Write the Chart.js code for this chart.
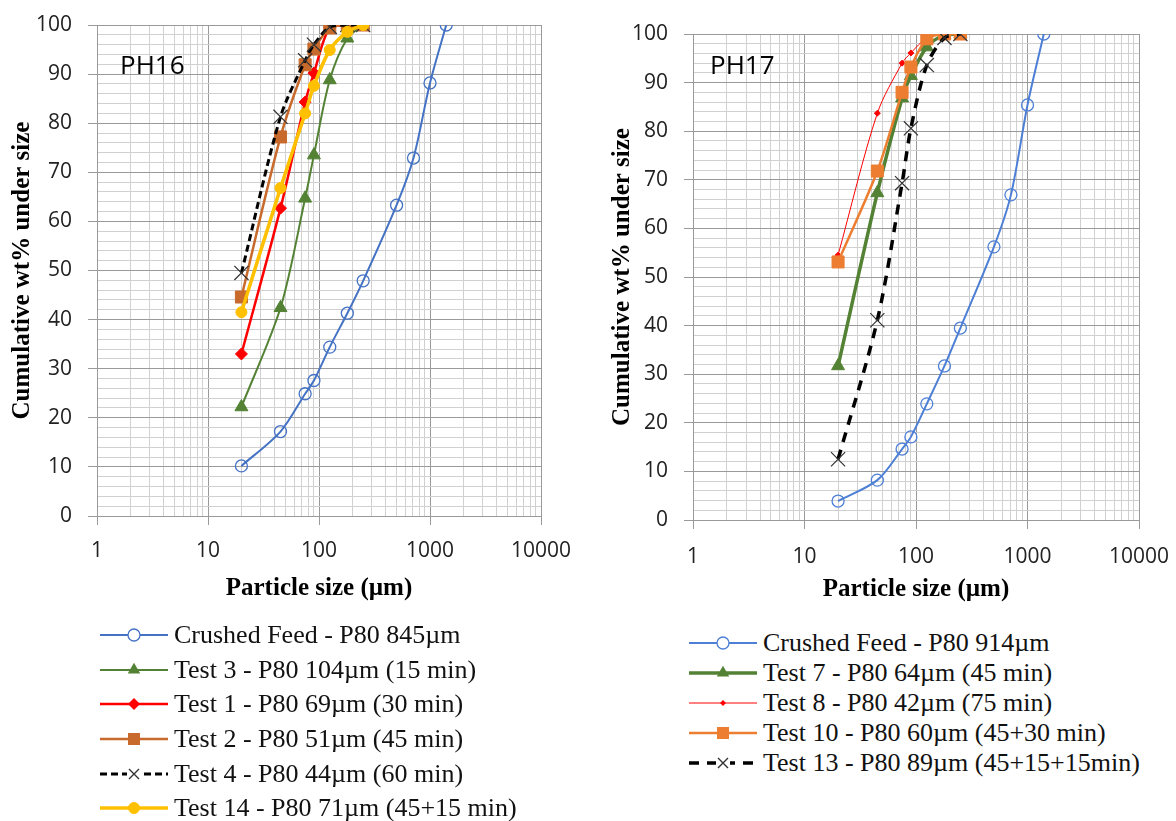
<!DOCTYPE html>
<html>
<head>
<meta charset="utf-8">
<script src="https://cdn.jsdelivr.net/npm/chart.js@4.4.1/dist/chart.umd.min.js"></script>
<style>
  body { margin: 0; background: #fff; width: 1176px; height: 821px; overflow: hidden; position: relative; }
  canvas { position: absolute; }
  .legend { position: absolute; font-family: "Liberation Serif", "Times New Roman", serif; font-size: 26px; color: #111; }
  .legend .row { display: flex; align-items: center; white-space: nowrap; }
  .legend svg { margin-right: 6px; flex: none; }
</style>
</head>
<body>
<canvas id="ph16" width="600" height="620" style="left:0;top:0"></canvas>
<canvas id="ph17" width="576" height="620" style="left:600px;top:0"></canvas>
<div id="leg16" class="legend" style="left:100px;top:618px"></div>
<div id="leg17" class="legend" style="left:689px;top:628px"></div>
<script>
// sieve sizes (µm)
const sizes = [20, 45, 75, 90, 125, 180, 250, 500, 710, 1000, 1400];

// PH16 - cumulative wt% passing
const ph16Feed   = [10.2, 17.2, 24.9, 27.6, 34.4, 41.3, 47.9, 63.3, 72.9, 88.2, 100];
const ph16Test3  = [22.2, 42.4, 64.7, 73.5, 88.8, 97.3, 100];
const ph16Test1  = [33.0, 62.7, 84.3, 90.2, 99.5, 100, 100];
const ph16Test2  = [44.6, 77.2, 91.9, 95.1, 99.4, 100, 100];
const ph16Test4  = [49.5, 81.3, 92.8, 96.0, 99.6, 100, 100];
const ph16Test14 = [41.5, 66.8, 82.0, 87.6, 94.9, 98.6, 100];

// PH17 - cumulative wt% passing
const ph17Feed   = [3.9, 8.2, 14.6, 17.1, 23.9, 31.7, 39.5, 56.2, 66.9, 85.4, 100];
const ph17Test7  = [31.7, 67.3, 86.8, 91.4, 97.3, 99.8, 100];
const ph17Test8  = [54.5, 83.7, 94.0, 96.1, 99.2, 100, 100];
const ph17Test10 = [53.1, 71.8, 88.0, 93.2, 99.0, 100, 100];
const ph17Test13 = [12.5, 41.1, 69.3, 80.6, 93.6, 99.2, 100];

const ph16Labels = [
  'Crushed Feed - P80 845µm',
  'Test 3 - P80 104µm (15 min)',
  'Test 1 - P80 69µm (30 min)',
  'Test 2 - P80 51µm (45 min)',
  'Test 4 -  P80 44µm (60 min)',
  'Test 14 - P80 71µm (45+15 min)'
];
const ph17Labels = [
  'Crushed Feed - P80 914µm',
  'Test 7 - P80 64µm (45 min)',
  'Test 8 - P80 42µm (75 min)',
  'Test 10 - P80 60µm (45+30 min)',
  'Test 13 - P80 89µm (45+15+15min)'
];

const xTicks = [];
for (let e = 0; e < 4; e++) for (let m = 1; m < 10; m++) xTicks.push(m * Math.pow(10, e));
xTicks.push(10000);
const xLabels = [1, 10, 100, 1000, 10000];

const pts = (ys) => ys.map((y, i) => ({ x: sizes[i], y: y }));

function line(label, ys, color, width, style, radius, extra) {
  return Object.assign({
    label: label,
    data: pts(ys),
    borderColor: color,
    backgroundColor: color,
    borderWidth: width,
    pointStyle: style,
    pointRadius: radius,
    pointBackgroundColor: color,
    pointBorderColor: color,
    pointBorderWidth: 1,
    tension: 0.3,
    fill: false
  }, extra || {});
}

const ph16Sets = [
  line(ph16Labels[0], ph16Feed, '#4472C4', 2, 'circle', 6, { pointBackgroundColor: 'rgba(0,0,0,0)', pointBorderWidth: 1.3 }),
  line(ph16Labels[1], ph16Test3, '#548235', 2, 'triangle', 7.5),
  line(ph16Labels[2], ph16Test1, '#FF0000', 2.5, 'rectRot', 6),
  line(ph16Labels[3], ph16Test2, '#C86A2C', 2.5, 'rect', 8.5),
  line(ph16Labels[4], ph16Test4, '#000000', 3, 'crossRot', 10, { borderDash: [7, 4], pointBorderWidth: 1.2, pointBorderColor: '#333' }),
  line(ph16Labels[5], ph16Test14, '#FFC000', 3.5, 'circle', 5.5)
];
const ph17Sets = [
  line(ph17Labels[0], ph17Feed, '#4D7FD6', 2, 'circle', 6, { pointBackgroundColor: 'rgba(0,0,0,0)', pointBorderWidth: 1.3 }),
  line(ph17Labels[1], ph17Test7, '#548235', 3.5, 'triangle', 7.5),
  line(ph17Labels[2], ph17Test8, '#FF0000', 1, 'rectRot', 3),
  line(ph17Labels[3], ph17Test10, '#ED7D31', 2.5, 'rect', 8.5),
  line(ph17Labels[4], ph17Test13, '#000000', 3.5, 'crossRot', 10, { borderDash: [10, 8], pointBorderWidth: 1.2, pointBorderColor: '#333' })
];
// later series on top, like the spreadsheet
ph16Sets.forEach((d, i) => d.order = ph16Sets.length - i);
ph17Sets.forEach((d, i) => d.order = ph17Sets.length - i);

const panelLabel = {
  id: 'panelLabel',
  beforeDatasetsDraw(chart, args, opts) {
    const c = chart.ctx;
    c.save();
    c.font = '26px "Open Sans", sans-serif';
    c.fillStyle = '#000';
    c.textBaseline = 'middle';
    c.fillText(opts.text, chart.chartArea.left + opts.dx, chart.chartArea.top + opts.dy);
    c.restore();
  }
};

const majorGrid = '#9A9A9A';
const minorGrid = '#D0D0D0';

function makeChart(id, sets, cfg) {
  return new Chart(document.getElementById(id), {
    type: 'line',
    data: { datasets: sets },
    plugins: [panelLabel],
    options: {
      responsive: false,
      animation: false,
      layout: { padding: { top: cfg.top, right: cfg.right, bottom: cfg.bottom, left: 0 } },
      plugins: {
        legend: { display: false },
        tooltip: { enabled: false },
        panelLabel: { text: cfg.name, dx: cfg.dx, dy: cfg.dy }
      },
      scales: {
        x: {
          type: 'logarithmic',
          min: 1,
          max: 10000,
          afterBuildTicks: (scale) => { scale.ticks = xTicks.map(v => ({ value: v })); },
          afterFit: (scale) => { scale.height = 90; },
          ticks: {
            autoSkip: false,
            maxRotation: 0,
            padding: 3,
            color: '#222',
            font: { family: '"Open Sans", sans-serif', size: 21, lineHeight: cfg.xTickLH },
            callback: (v) => xLabels.includes(v) ? String(v) : ''
          },
          grid: {
            color: (ctx) => xLabels.includes(ctx.tick && ctx.tick.value) ? majorGrid : minorGrid,
            tickColor: (ctx) => xLabels.includes(ctx.tick && ctx.tick.value) ? majorGrid : 'rgba(0,0,0,0)',
            tickLength: 9
          },
          border: { color: majorGrid },
          title: {
            display: true,
            text: 'Particle size (µm)',
            color: '#000',
            font: { family: '"Liberation Serif", serif', size: 25, weight: 'bold' },
            padding: { top: 0, bottom: cfg.xTitlePad }
          }
        },
        y: {
          min: 0,
          max: 100,
          afterFit: (scale) => { scale.width = cfg.left; },
          ticks: {
            stepSize: 2,
            autoSkip: false,
            padding: 16,
            color: '#222',
            font: { family: '"Open Sans", sans-serif', size: 21, lineHeight: 0.6 },
            callback: (v) => v % 10 === 0 ? String(v) : ''
          },
          grid: {
            color: (ctx) => ctx.tick && ctx.tick.value % 10 === 0 ? majorGrid : minorGrid,
            tickColor: (ctx) => ctx.tick && ctx.tick.value % 10 === 0 ? majorGrid : 'rgba(0,0,0,0)',
            tickLength: 9
          },
          border: { color: majorGrid },
          title: {
            display: true,
            text: 'Cumulative wt% under size',
            color: '#000',
            font: { family: '"Liberation Serif", serif', size: 25, weight: 'bold' },
            padding: { top: 8, bottom: 0 }
          }
        }
      }
    }
  });
}

makeChart('ph16', ph16Sets, { top: 25, right: 59, bottom: 14, left: 97, name: 'PH16', dx: 23, dy: 42, xTickLH: 2.15, xTitlePad: 2 });
makeChart('ph17', ph17Sets, { top: 34, right: 37, bottom: 10, left: 93, name: 'PH17', dx: 17, dy: 33, xTickLH: 2.34, xTitlePad: 5 });

// legend samples: line with the series marker in the middle
function sample(ds) {
  const w = 68, h = 22, cx = w / 2, cy = h / 2, r = ds.pointRadius, c = ds.borderColor;
  const dash = ds.borderDash ? ` stroke-dasharray="${ds.borderDash.join(',')}"` : '';
  let s = `<svg width="${w}" height="${h}"><line x1="0" y1="${cy}" x2="${w}" y2="${cy}" stroke="${c}" stroke-width="${ds.borderWidth}"${dash}/>`;
  const fill = ds.pointBackgroundColor, stroke = ds.pointBorderColor, sw = ds.pointBorderWidth;
  const lr = Math.min(r, 6);
  if (ds.pointStyle === 'circle') {
    s += `<circle cx="${cx}" cy="${cy}" r="${lr}" fill="${fill === 'rgba(0,0,0,0)' ? '#fff' : fill}" stroke="${stroke}" stroke-width="${sw}"/>`;
  } else if (ds.pointStyle === 'triangle') {
    const a = lr * 1.2;
    s += `<polygon points="${cx},${cy - a} ${cx + a * 0.866},${cy + a / 2} ${cx - a * 0.866},${cy + a / 2}" fill="${fill}"/>`;
  } else if (ds.pointStyle === 'rectRot') {
    s += `<polygon points="${cx - lr},${cy} ${cx},${cy - lr} ${cx + lr},${cy} ${cx},${cy + lr}" fill="${fill}"/>`;
  } else if (ds.pointStyle === 'rect') {
    const q = lr;
    s += `<rect x="${cx - q}" y="${cy - q}" width="${2 * q}" height="${2 * q}" fill="${fill}"/>`;
  } else if (ds.pointStyle === 'crossRot') {
    const q = 5;
    s += `<rect x="${cx - 7}" y="${cy - 7}" width="14" height="14" fill="#fff"/>`;
    s += `<path d="M${cx - q},${cy - q}L${cx + q},${cy + q}M${cx + q},${cy - q}L${cx - q},${cy + q}" stroke="${stroke}" stroke-width="1.4"/>`;
  }
  return s + '</svg>';
}

function buildLegend(id, sets, rowH) {
  const box = document.getElementById(id);
  sets.forEach(ds => {
    const row = document.createElement('div');
    row.className = 'row';
    row.style.height = rowH + 'px';
    row.innerHTML = sample(ds);
    const t = document.createElement('span');
    t.textContent = ds.label;
    row.appendChild(t);
    box.appendChild(row);
  });
}
buildLegend('leg16', ph16Sets, 34.6);
buildLegend('leg17', ph17Sets, 30);
</script>
</body>
</html>
